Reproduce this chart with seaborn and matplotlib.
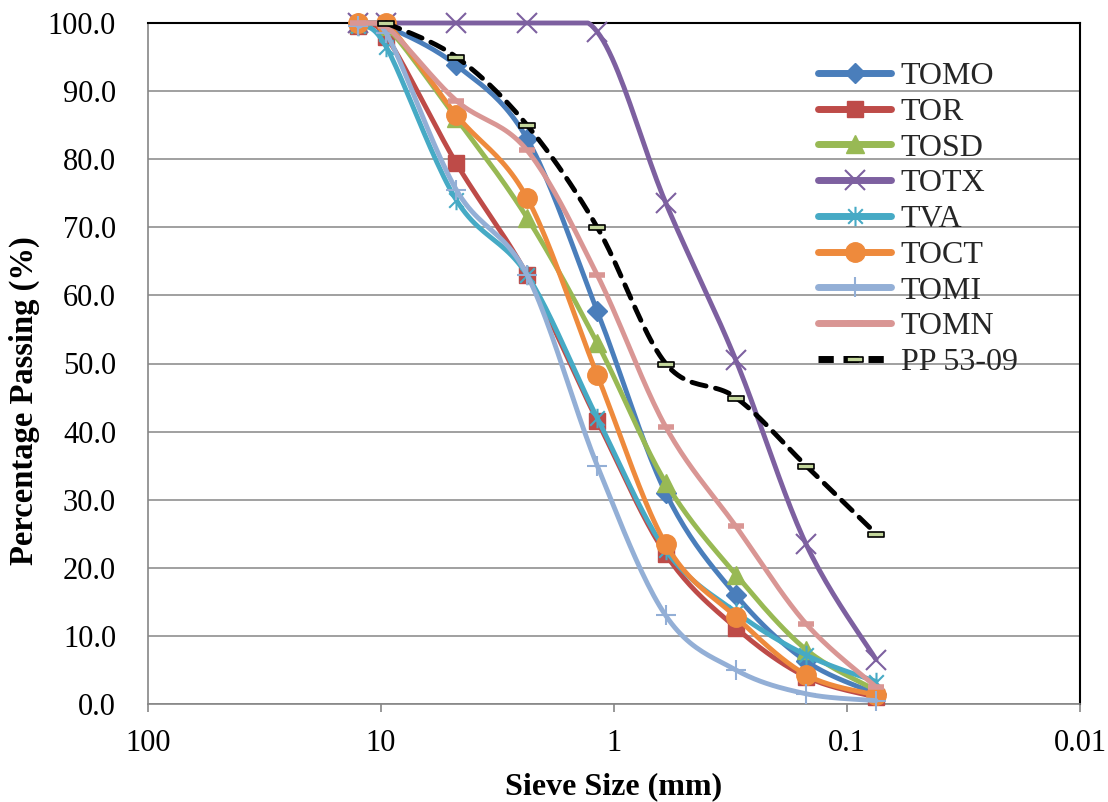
import numpy as np
import matplotlib
matplotlib.use("Agg")
import matplotlib.pyplot as plt
import seaborn as sns
from matplotlib.lines import Line2D
from matplotlib.path import Path

# sieve sizes (mm) and percentage passing per mix
sieve = [12.5, 9.5, 4.75, 2.36, 1.18, 0.6, 0.3, 0.15, 0.075]
tomo = [100.0, 99.5, 93.8, 83.0, 57.7, 31.0, 16.0, 6.3, 1.5]
tor = [99.5, 98.0, 79.4, 63.0, 41.6, 22.0, 11.2, 4.0, 1.0]
tosd = [100.0, 99.5, 86.0, 71.4, 53.0, 32.5, 19.0, 8.0, 2.0]
totx = [100.0, 100.0, 100.0, 100.0, 98.7, 73.6, 50.5, 23.5, 6.5]
tva = [99.5, 96.5, 74.0, 63.0, 42.0, 22.6, 13.5, 7.2, 3.3]
toct = [100.0, 100.0, 86.5, 74.3, 48.3, 23.5, 12.8, 4.3, 1.3]
tomi = [99.5, 98.5, 75.5, 63.0, 35.0, 13.0, 5.0, 1.5, 0.5]
tomn = [100.0, 99.5, 88.6, 81.3, 63.0, 40.7, 26.1, 11.8, 2.5]
spec_sieve = [9.5, 4.75, 2.36, 1.18, 0.6, 0.3, 0.15, 0.075]
spec = [100.0, 95.0, 85.0, 70.0, 50.0, 45.0, 35.0, 25.0]

x_ticks = [100, 10, 1, 0.1, 0.01]
x_ticklabels = ["100", "10", "1", "0.1", "0.01"]
y_ticks = [0, 10, 20, 30, 40, 50, 60, 70, 80, 90, 100]

# excel style markers
star = Path([(0, -1), (0, 1), (-0.75, -0.75), (0.75, 0.75), (-0.75, 0.75), (0.75, -0.75)],
            [Path.MOVETO, Path.LINETO, Path.MOVETO, Path.LINETO, Path.MOVETO, Path.LINETO])
bar = Path([(-1, -0.3), (1, -0.3), (1, 0.3), (-1, 0.3), (-1, -0.3)],
           [Path.MOVETO, Path.LINETO, Path.LINETO, Path.LINETO, Path.CLOSEPOLY])

series = [
    ("TOMO", sieve, tomo, "#4A7EBB", dict(marker="D", ms=10.5)),
    ("TOR", sieve, tor, "#BE4B48", dict(marker="s", ms=11.5)),
    ("TOSD", sieve, tosd, "#98B954", dict(marker="^", ms=13.5)),
    ("TOTX", sieve, totx, "#7D60A0", dict(marker="x", ms=14, mew=1.5)),
    ("TVA", sieve, tva, "#46AAC5", dict(marker=star, ms=14, mew=1.5)),
    ("TOCT", sieve, toct, "#EE8A3C", dict(marker="o", ms=14)),
    ("TOMI", sieve, tomi, "#93AFD6", dict(marker="+", ms=14, mew=1.5)),
    ("TOMN", sieve, tomn, "#D99694", dict(marker="_", ms=12, mew=4)),
]
LW = 3.5


def smooth(xs, ys, n=24):
    # excel-like smoothed line: bezier through the points in log-x space
    P = np.column_stack([np.log10(xs), ys])
    out = []
    t = np.linspace(0, 1, n)[:, None]
    for i in range(len(P) - 1):
        p0, p1 = P[max(i - 1, 0)], P[i]
        p2, p3 = P[i + 1], P[min(i + 2, len(P) - 1)]
        c1 = p1 + (p2 - p0) / 6
        c2 = p2 - (p3 - p1) / 6
        seg = (1 - t) ** 3 * p1 + 3 * (1 - t) ** 2 * t * c1 + 3 * (1 - t) * t ** 2 * c2 + t ** 3 * p2
        out.append(seg if i == 0 else seg[1:])
    out = np.vstack(out)
    return 10 ** out[:, 0], np.clip(out[:, 1], 0, 100)


sns.set_theme(style="white")
plt.rcParams["font.family"] = ["Liberation Serif", "DejaVu Serif"]

fig = plt.figure(figsize=(11.08, 8.02), dpi=100)
ax = fig.add_axes([148 / 1108, 98 / 802, 932 / 1108, 681 / 802])

handles = []
for name, xs, ys, color, mk in series:
    sx, sy = smooth(xs, ys)
    sns.lineplot(x=sx, y=sy, ax=ax, color=color, lw=LW, sort=False,
                 estimator=None, legend=False, clip_on=False, zorder=3)
    ax.plot(xs, ys, ls="none", color=color, mec=color, mfc=color,
            clip_on=False, zorder=3, **mk)
    handles.append(Line2D([], [], color=color, lw=5, mec=color, mfc=color,
                          solid_capstyle="round", **mk))

sx, sy = smooth(spec_sieve, spec)
sns.lineplot(x=sx, y=sy, ax=ax, color="black", lw=LW, sort=False, estimator=None,
             legend=False, clip_on=False, zorder=4)
ax.lines[-1].set_dashes([3.0, 2.0])
ax.lines[-1].set_dash_capstyle("round")
ax.plot(spec_sieve, spec, ls="none", marker=bar, ms=12, mfc="#C3D69B", mec="black",
        mew=1.2, clip_on=False, zorder=5)
handles.append(Line2D([], [], color="black", lw=5, dashes=[2.2, 1.4], marker=bar,
                      ms=12, mfc="#C3D69B", mec="black", mew=1.2))

ax.set_xscale("log")
ax.set_xlim(100, 0.01)
ax.set_ylim(0, 100)
ax.set_xticks(x_ticks)
ax.set_xticklabels(x_ticklabels)
ax.xaxis.set_minor_locator(matplotlib.ticker.NullLocator())
ax.set_yticks(y_ticks)
ax.set_yticklabels([f"{v:.1f}" for v in y_ticks])
ax.yaxis.grid(True, color="#868686", lw=1.1)
ax.set_axisbelow(True)

for side in ["left", "bottom"]:
    ax.spines[side].set_color("#868686")
    ax.spines[side].set_linewidth(1.2)
for side in ["top", "right"]:
    ax.spines[side].set_color("black")
    ax.spines[side].set_linewidth(1.5)

ax.tick_params(axis="x", which="major", bottom=True, direction="out", length=6,
               width=1.2, color="#868686", labelsize=22, pad=12, labelcolor="black")
ax.tick_params(axis="y", left=False, labelsize=22, pad=17, labelcolor="black")

ax.set_xlabel("Sieve Size (mm)", fontsize=23, fontweight="bold", color="black")
ax.set_ylabel("Percentage Passing (%)", fontsize=23.5, fontweight="bold", color="black")
ax.xaxis.set_label_coords(0.5, -0.1)
ax.yaxis.set_label_coords(-0.116, 0.445)

ax.legend(handles, [s[0] for s in series] + ["PP 53-09"], loc="upper left",
          bbox_to_anchor=(0.705, 0.962), frameon=False, fontsize=23,
          handlelength=2.3, handletextpad=0.3, labelspacing=0.2, borderaxespad=0)

fig.savefig("out.png", dpi=100)
